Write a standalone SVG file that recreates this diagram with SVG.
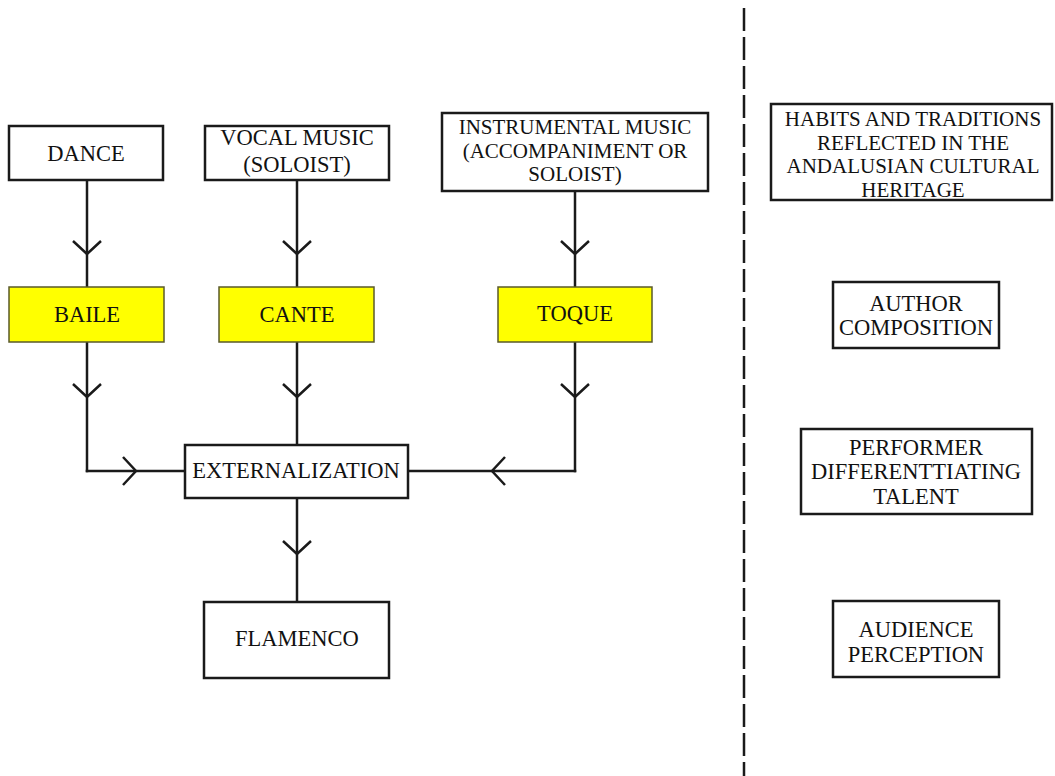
<svg xmlns="http://www.w3.org/2000/svg" width="1055" height="776" viewBox="0 0 1055 776">
<style>
text{font-family:"Liberation Serif","Times New Roman",serif;font-size:22.5px;fill:#111;text-anchor:middle}
text.sm{font-size:21px}
.box{fill:#fff;stroke:#1a1a1a;stroke-width:2.5}
.ybox{fill:#ffff00;stroke:#5a5a2a;stroke-width:1.5}
.ln{fill:none;stroke:#1a1a1a;stroke-width:2.5;stroke-linecap:square}
</style>
<defs>
<marker id="chev" markerUnits="userSpaceOnUse" viewBox="-20 -20 40 40" markerWidth="40" markerHeight="40" refX="0" refY="0" orient="auto">
<path d="M-13,-14 L0,0 L-13,14" fill="none" stroke="#1a1a1a" stroke-width="2.5"/>
</marker>
</defs>
<rect width="1055" height="776" fill="#fff"/>
<g id="connectors">
<path class="ln" d="M87,180 L87,254 L87,287" marker-mid="url(#chev)"/>
<path class="ln" d="M297,180 L297,254 L297,287" marker-mid="url(#chev)"/>
<path class="ln" d="M575,191 L575,254 L575,287" marker-mid="url(#chev)"/>
<path class="ln" d="M87,342 L87,397 L87,471" marker-mid="url(#chev)"/>
<path class="ln" d="M87,471 L136,471 L185,471" marker-mid="url(#chev)"/>
<path class="ln" d="M297,342 L297,397 L297,445" marker-mid="url(#chev)"/>
<path class="ln" d="M575,342 L575,397 L575,471" marker-mid="url(#chev)"/>
<path class="ln" d="M575,471 L492,471 L408,471" marker-mid="url(#chev)"/>
<path class="ln" d="M297,498 L297,554 L297,602" marker-mid="url(#chev)"/>
</g>
<line id="divider" x1="744" y1="8" x2="744" y2="776" stroke="#1a1a1a" stroke-width="2.5" stroke-dasharray="23 6"/>
<g id="dance"><rect class="box" x="9" y="126" width="154" height="54"/><text x="86" y="161">DANCE</text></g>
<g id="vocal"><rect class="box" x="205" y="126" width="184" height="54"/><text x="297" y="145">VOCAL MUSIC</text><text x="297" y="172">(SOLOIST)</text></g>
<g id="instrumental"><rect class="box" x="442" y="113" width="266" height="78"/><text class="sm" x="575" y="134">INSTRUMENTAL MUSIC</text><text class="sm" x="575" y="157.5">(ACCOMPANIMENT OR</text><text class="sm" x="575" y="181">SOLOIST)</text></g>
<g id="baile"><rect class="ybox" x="9" y="287" width="155" height="55"/><text x="87" y="322">BAILE</text></g>
<g id="cante"><rect class="ybox" x="219" y="287" width="155" height="55"/><text x="297" y="322">CANTE</text></g>
<g id="toque"><rect class="ybox" x="498" y="287" width="154" height="55"/><text x="575" y="321">TOQUE</text></g>
<g id="externalization"><rect class="box" x="185" y="445" width="223" height="53"/><text x="296" y="478">EXTERNALIZATION</text></g>
<g id="flamenco"><rect class="box" x="204" y="602" width="185" height="76"/><text x="297" y="646">FLAMENCO</text></g>
<g id="habits"><rect class="box" x="771" y="104" width="281" height="96"/><text class="sm" x="913" y="126">HABITS AND TRADITIONS</text><text class="sm" x="913" y="149.5">REFLECTED IN THE</text><text class="sm" x="913" y="173">ANDALUSIAN CULTURAL</text><text class="sm" x="913" y="196.5">HERITAGE</text></g>
<g id="author"><rect class="box" x="833" y="282" width="166" height="66"/><text x="916" y="311">AUTHOR</text><text x="916" y="335">COMPOSITION</text></g>
<g id="performer"><rect class="box" x="801" y="429" width="231" height="85"/><text x="916" y="455">PERFORMER</text><text x="916" y="479">DIFFERENTTIATING</text><text x="916" y="504">TALENT</text></g>
<g id="audience"><rect class="box" x="833" y="601" width="166" height="76"/><text x="916" y="637">AUDIENCE</text><text x="916" y="662">PERCEPTION</text></g>
</svg>
